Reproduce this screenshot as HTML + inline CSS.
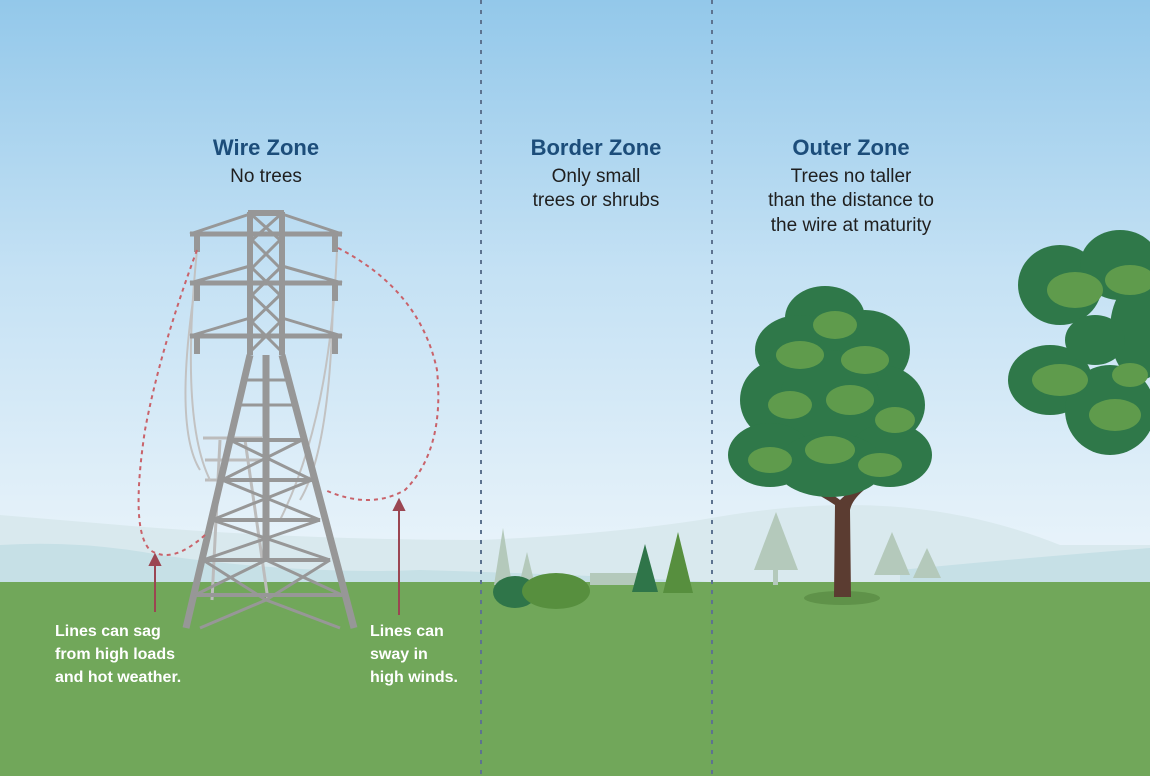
<!DOCTYPE html>
<html><head><meta charset="utf-8"><style>
body{margin:0;width:1150px;height:776px;overflow:hidden;font-family:"Liberation Sans",sans-serif}
</style></head><body>
<svg width="1150" height="776" viewBox="0 0 1150 776" xmlns="http://www.w3.org/2000/svg">
<defs>
<linearGradient id="sky" x1="0" y1="0" x2="0" y2="1">
<stop offset="0" stop-color="#93c8ea"/><stop offset="0.45" stop-color="#c4e1f4"/><stop offset="1" stop-color="#eef6fb"/>
</linearGradient>
</defs>
<rect width="1150" height="600" fill="url(#sky)"/>
<path d="M0 515 Q60 520 120 525 Q300 540 480 540 Q600 535 700 520 Q780 505 850 505 Q960 505 1060 545 L1150 545 L1150 600 L0 600Z" fill="#d9e9ee"/>
<path d="M0 545 Q80 540 160 555 Q300 575 420 570 Q600 575 760 585 L0 600Z" fill="#c6e0e6"/>
<path d="M900 570 Q1000 560 1150 548 L1150 600 L900 600Z" fill="#c6e0e6"/>
<rect y="582" width="1150" height="194" fill="#71a75a"/>
<g fill="#b4c9bb">
<path d="M503 528 L512 585 L494 585Z"/><path d="M527 552 L535 585 L519 585Z"/>
<path d="M776 512 L798 570 L754 570Z"/><rect x="773" y="560" width="5" height="25"/>
<path d="M892 532 L910 575 L874 575Z"/><path d="M927 548 L941 578 L913 578Z"/>
<rect x="590" y="573" width="50" height="12"/>
</g>
<ellipse cx="515" cy="592" rx="22" ry="16" fill="#2f7549"/>
<ellipse cx="556" cy="591" rx="34" ry="18" fill="#578f3e"/>
<path d="M645 544 L658 592 L632 592Z" fill="#2f7549"/>
<path d="M678 532 L693 593 L663 593Z" fill="#578f3e"/>
<line x1="481" y1="0" x2="481" y2="776" stroke="#5d7390" stroke-width="2" stroke-dasharray="4 6"/>
<line x1="712" y1="0" x2="712" y2="776" stroke="#5d7390" stroke-width="2" stroke-dasharray="4 6"/>
<g stroke="#bcbcbc" stroke-width="3" fill="none">
<path d="M220 440 L212 600 M245 440 L268 600 M203 438 L262 438 M205 460 L262 460 M205 480 L262 480"/>
</g>
<g stroke="#c2c2c2" stroke-width="2" fill="none">
<path d="M197 250 Q180 420 210 480"/><path d="M193 300 Q175 430 200 470"/>
<path d="M337 250 Q330 420 280 520"/><path d="M333 300 Q330 450 300 500"/>
</g>
<g stroke="#979797" fill="none">
<path d="M190 234 L342 234 M190 283 L342 283 M190 336 L342 336" stroke-width="5"/>
<path d="M190 234 L250 214 M342 234 L282 214 M190 283 L250 266 M342 283 L282 266 M190 336 L250 318 M342 336 L282 318" stroke-width="3"/>
<path d="M250 212 L250 355 M282 212 L282 355 M248 213 L284 213" stroke-width="6"/>
<path d="M252 215 L280 240 M280 215 L252 240 M252 240 L280 268 M280 240 L252 268 M252 268 L280 295 M280 268 L252 295 M252 295 L280 322 M280 295 L252 322 M252 322 L280 350 M280 322 L252 350" stroke-width="3"/>
<path d="M250 355 L186 628 M282 355 L354 628 M266 355 L266 560" stroke-width="7"/>
<path d="M230 440 L302 440 M222 480 L312 480 M212 520 L320 520 M203 560 L330 560 M195 595 L342 595" stroke-width="4"/>
<path d="M230 440 L312 480 M302 440 L222 480 M222 480 L320 520 M312 480 L212 520 M212 520 L330 560 M320 520 L203 560 M203 560 L266 600 L330 560 M195 595 L266 560 L342 595 M200 628 L266 600 L340 628" stroke-width="3"/>
<path d="M245 380 L287 380 M240 405 L292 405" stroke-width="3"/>
</g>
<g fill="#979797"><rect x="194" y="236" width="6" height="16"/><rect x="332" y="236" width="6" height="16"/><rect x="194" y="285" width="6" height="16"/><rect x="332" y="285" width="6" height="16"/><rect x="194" y="338" width="6" height="16"/><rect x="332" y="338" width="6" height="16"/></g>
<g stroke="#c9626a" stroke-width="2" fill="none" stroke-dasharray="4 4">
<path d="M197 250 Q160 350 145 430 Q130 530 150 550 Q172 565 205 535"/>
<path d="M338 248 Q420 290 437 370 Q445 450 405 490 Q370 510 325 490"/>
</g>
<g stroke="#9b4652" stroke-width="2" fill="#9b4652">
<line x1="155" y1="612" x2="155" y2="560"/><path d="M150 565 L155 555 L160 565Z"/>
<line x1="399" y1="615" x2="399" y2="505"/><path d="M394 510 L399 500 L404 510Z"/>
</g>
<ellipse cx="842" cy="598" rx="38" ry="7" fill="#5f9249"/>
<path d="M834 597 L835 505 Q820 495 808 490 L812 486 Q830 492 840 500 Q850 490 860 485 L864 490 Q852 500 850 510 L851 597Z" fill="#5b3c31"/>
<g fill="#2f7849">
<ellipse cx="825" cy="318" rx="40" ry="32"/><ellipse cx="800" cy="350" rx="45" ry="35"/><ellipse cx="865" cy="350" rx="45" ry="40"/>
<ellipse cx="780" cy="400" rx="40" ry="40"/><ellipse cx="880" cy="405" rx="45" ry="40"/><ellipse cx="830" cy="400" rx="50" ry="50"/>
<ellipse cx="770" cy="455" rx="42" ry="32"/><ellipse cx="890" cy="455" rx="42" ry="32"/><ellipse cx="830" cy="465" rx="55" ry="32"/>
</g>
<g fill="#5f9b4c">
<ellipse cx="835" cy="325" rx="22" ry="14"/><ellipse cx="800" cy="355" rx="24" ry="14"/><ellipse cx="865" cy="360" rx="24" ry="14"/>
<ellipse cx="790" cy="405" rx="22" ry="14"/><ellipse cx="850" cy="400" rx="24" ry="15"/><ellipse cx="895" cy="420" rx="20" ry="13"/>
<ellipse cx="770" cy="460" rx="22" ry="13"/><ellipse cx="830" cy="450" rx="25" ry="14"/><ellipse cx="880" cy="465" rx="22" ry="12"/>
</g>
<path d="M1150 335 L1100 345 L1150 360Z" fill="#5b3c31"/>
<g fill="#2f7849">
<ellipse cx="1060" cy="285" rx="42" ry="40"/><ellipse cx="1120" cy="265" rx="40" ry="35"/><ellipse cx="1050" cy="380" rx="42" ry="35"/><ellipse cx="1110" cy="410" rx="45" ry="45"/><ellipse cx="1140" cy="330" rx="30" ry="50"/><ellipse cx="1095" cy="340" rx="30" ry="25"/>
</g>
<g fill="#5f9b4c">
<ellipse cx="1075" cy="290" rx="28" ry="18"/><ellipse cx="1130" cy="280" rx="25" ry="15"/><ellipse cx="1060" cy="380" rx="28" ry="16"/><ellipse cx="1115" cy="415" rx="26" ry="16"/><ellipse cx="1130" cy="375" rx="18" ry="12"/>
</g>
<g font-family="Liberation Sans, sans-serif" text-anchor="middle">
<text x="266" y="155" font-size="22" font-weight="bold" fill="#1c4d7a">Wire Zone</text>
<text x="266" y="182" font-size="19" fill="#1f1f1f">No trees</text>
<text x="596" y="155" font-size="22" font-weight="bold" fill="#1c4d7a">Border Zone</text>
<text x="596" y="182" font-size="19" fill="#1f1f1f">Only small</text>
<text x="596" y="206" font-size="19" fill="#1f1f1f">trees or shrubs</text>
<text x="851" y="155" font-size="22" font-weight="bold" fill="#1c4d7a">Outer Zone</text>
<text x="851" y="182" font-size="19" fill="#1f1f1f">Trees no taller</text>
<text x="851" y="206" font-size="19" fill="#1f1f1f">than the distance to</text>
<text x="851" y="231" font-size="19" fill="#1f1f1f">the wire at maturity</text>
</g>
<g font-family="Liberation Sans, sans-serif" font-size="16" font-weight="bold" fill="#ffffff">
<text x="55" y="636">Lines can sag</text>
<text x="55" y="659">from high loads</text>
<text x="55" y="682">and hot weather.</text>
<text x="370" y="636">Lines can</text>
<text x="370" y="659">sway in</text>
<text x="370" y="682">high winds.</text>
</g>
</svg>
</body></html>
